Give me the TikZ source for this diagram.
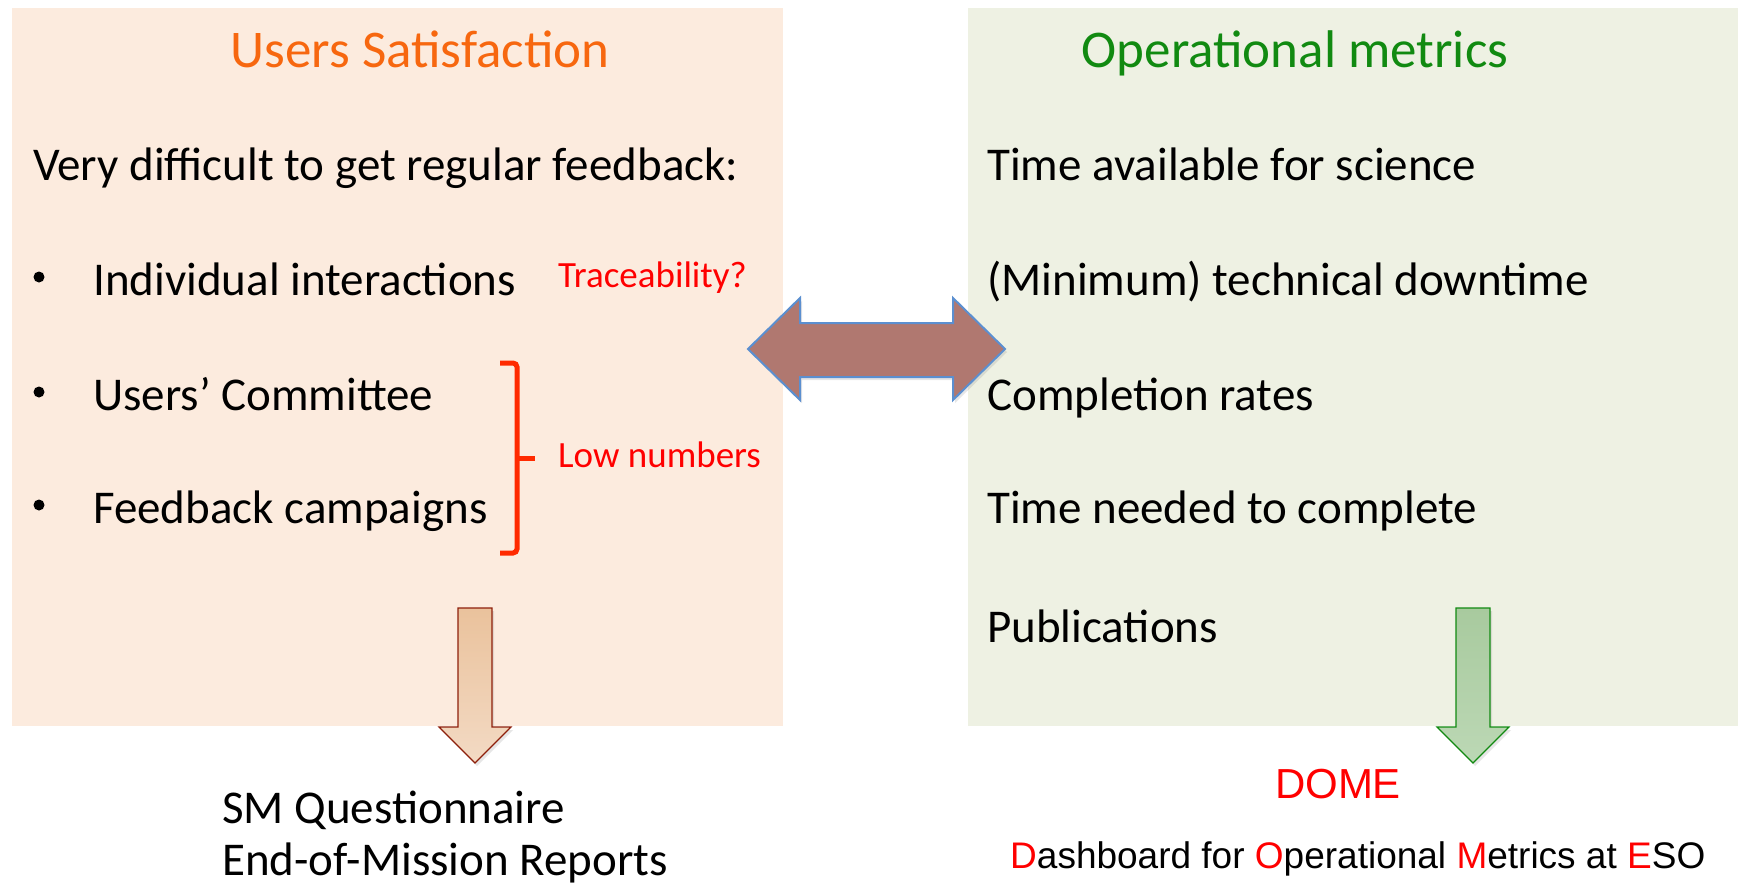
\documentclass[tikz,border=0pt]{standalone}
\usepackage{fontspec}
\setmainfont{Carlito}
\newfontfamily\arialfont{Liberation Sans}
\usetikzlibrary{shadows}

\definecolor{usrbg}{HTML}{FCEBDE}
\definecolor{opsbg}{HTML}{EEF1E3}
\definecolor{usrorange}{HTML}{F7670F}
\definecolor{opsgreen}{HTML}{118A11}
\definecolor{brickred}{HTML}{8E1F0B}
\definecolor{arrowrose}{HTML}{B07870}
\definecolor{arrowblue}{HTML}{5B8FD0}
\definecolor{bracered}{HTML}{FF2A00}
\definecolor{tantop}{HTML}{EAC29C}
\definecolor{tanbot}{HTML}{F3DAC4}
\definecolor{sagetop}{HTML}{A8CA9E}
\definecolor{sagebot}{HTML}{BCD8B5}

\newcommand\bodyfont{\fontsize{47}{56}\selectfont}
\newcommand\notefont{\fontsize{37}{44}\selectfont}
\newcommand\titlefont{\fontsize{53}{64}\selectfont}

% down block arrow: x centre, y top, style
\newcommand\blockdown[3]{
    \draw[#3] (#1-17,#2) -- (#1+17,#2) -- (#1+17,#2+119) -- (#1+36,#2+119)
        -- (#1,#2+155) -- (#1-36,#2+119) -- (#1-17,#2+119) -- cycle ;
}

\tikzset{
    item/.style={anchor=base west, inner sep=0, font=\bodyfont},
    note/.style={anchor=base west, inner sep=0, font=\notefont, text=red},
    heading/.style={anchor=base, inner sep=0, font=\titlefont},
    dot/.style={circle, fill=black, inner sep=0, minimum size=11},
    softshadow/.style={drop shadow={shadow xshift=2pt, shadow yshift=-3pt, opacity=0.2}},
}

\begin{document}
\begin{tikzpicture}[x=1pt, y=-1pt]
    \useasboundingbox (0,0) rectangle (1738,886);

    % the two panels
    \fill[usrbg] (12,8) rectangle (783,726);
    \fill[opsbg] (968,8) rectangle (1738,726);

    % left panel
    \node[heading, text=usrorange] (usrtitle) at (420,67) {Users Satisfaction};
    \node[item] (usrintro) at (33,180) {Very difficult to get regular feedback:};
    \foreach \name/\txt/\y in {indiv/Individual interactions/295,
                               comm/Users’ Committee/410,
                               camp/Feedback campaigns/523} {
        \node[dot] (\name dot) at (39,\y-18) {};
        \node[item] (\name) at (93,\y) {\txt};
    }
    \node[note] (trace) at (558,287) {Traceability?};
    \node[note] (lownum) at (558,467) {Low numbers};

    % brace round committee and campaigns
    \draw[bracered, line width=5, rounded corners=4] (500,363) -- (517,363) -- (517,553) -- (500,553);
    \draw[bracered, line width=5] (517,458) -- (535,458);

    % right panel
    \node[heading, text=opsgreen] (opstitle) at (1295,67) {Operational metrics};
    \foreach \name/\txt/\y in {sci/Time available for science/180,
                               down/(Minimum) technical downtime/295,
                               rate/Completion rates/410,
                               need/Time needed to complete/523,
                               pub/Publications/642} {
        \node[item] (\name) at (987,\y) {\txt};
    }

    % double arrow between panels
    \draw[arrowblue, line width=2, fill=arrowrose, softshadow]
        (748,349) -- (800,298) -- (800,323) -- (953,323) -- (953,298) -- (1005,349)
        -- (953,400) -- (953,377) -- (800,377) -- (800,400) -- cycle;

    % left down arrow
    \blockdown{475}{608}{brickred, line width=1.2, top color=tantop, bottom color=tanbot, softshadow}
    \node[item] (smq) at (222,823) {SM Questionnaire};
    \node[item] (eom) at (222,875) {End-of-Mission Reports};

    % right down arrow
    \blockdown{1473}{608}{opsgreen, line width=1.2, top color=sagetop, bottom color=sagebot, softshadow}
    \node[anchor=base, inner sep=0, font=\arialfont\fontsize{42}{50}\selectfont, text=red] (dome) at (1338,798) {DOME};
    \node[anchor=base west, inner sep=0, font=\arialfont\fontsize{37}{44}\selectfont] (domelong) at (1010,868)
        {\textcolor{red}{D}ashboard for \textcolor{red}{O}perational \textcolor{red}{M}etrics at \textcolor{red}{E}SO};
\end{tikzpicture}
\end{document}
